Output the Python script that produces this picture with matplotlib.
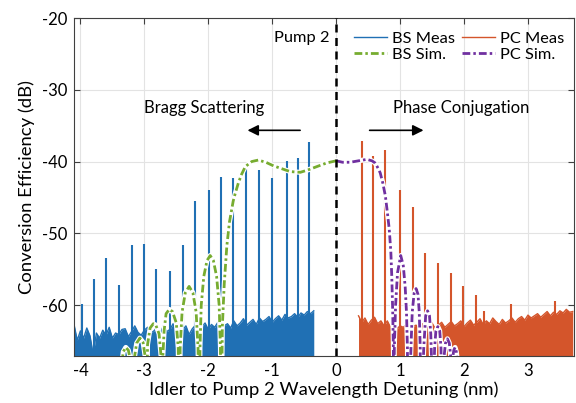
import numpy as np
import matplotlib
matplotlib.use('Agg')
import matplotlib.pyplot as plt

plt.rcParams['font.family'] = ['Lato', 'DejaVu Sans']
plt.rcParams['axes.unicode_minus'] = False

# measured noise floor, Bragg scattering side (every 0.05 nm from -4.10)
bs_noise_x = np.round(np.arange(-4.10, -0.349, 0.05), 3)
bs_noise_y = [-62.7, -64.9, -63.6, -64.6, -63.2, -64.3, -66.9, -63.9, -64.6, -63.5,
              -64.2, -63.1, -64.6, -63.9, -64.1, -63.4, -63.3, -64.4, -63.7, -62.9,
              -63.8, -64.2, -63.5, -63.1, -63.9, -63.6, -63.0, -64.0, -62.8, -63.7,
              -63.4, -62.6, -63.9, -63.2, -63.5, -62.9, -64.1, -63.3, -62.8, -63.9,
              -63.0, -62.5, -63.4, -62.7, -63.1, -62.4, -63.5, -62.9, -62.6, -63.2,
              -62.2, -62.9, -62.5, -61.9, -62.8, -62.4, -62.0, -62.7, -61.8, -62.3,
              -62.0, -61.6, -62.4, -61.9, -61.5, -62.1, -61.3, -61.8, -61.6, -61.2,
              -61.7, -61.1, -61.4, -60.9, -61.2, -60.8]

# measured idler peaks, Bragg scattering side
bs_peak_x = [-3.98, -3.79, -3.60, -3.39, -3.19, -3.00, -2.81, -2.60, -2.40, -2.20,
             -1.99, -1.80, -1.61, -1.41, -1.21, -1.01, -0.77, -0.60, -0.43]
bs_peak_y = [-59.9, -56.4, -53.5, -57.2, -51.7, -51.5, -55.0, -55.2, -51.6, -45.5,
             -43.9, -42.1, -42.3, -41.0, -41.2, -42.3, -39.9, -39.5, -37.3]

# measured noise floor, phase conjugation side (every 0.05 nm from 0.35)
pc_noise_x = np.round(np.arange(0.35, 3.701, 0.05), 3)
pc_noise_y = [-61.5, -62.4, -61.8, -62.7, -62.1, -61.7, -62.6, -62.2, -62.9, -62.2,
              -63.1, -62.5, -63.3, -62.9, -63.1, -62.7, -63.5, -63.0, -62.8, -63.4,
              -62.6, -63.2, -63.0, -62.5, -63.3, -62.8, -62.4, -63.1, -62.7, -62.3,
              -62.9, -62.6, -62.2, -63.0, -62.5, -62.1, -62.8, -62.4, -61.9, -62.7,
              -62.2, -62.6, -61.8, -62.3, -62.7, -62.0, -62.5, -62.2, -61.8, -62.4,
              -61.9, -61.6, -62.1, -61.4, -61.8, -61.5, -61.2, -61.7, -61.3, -60.9,
              -61.5, -61.0, -61.3, -60.8, -61.1, -60.6, -61.0, -60.9]

# measured idler peaks, phase conjugation side
pc_peak_x = [0.41, 0.58, 0.76, 1.00, 1.20, 1.39, 1.59, 1.79, 1.98, 2.19, 2.31, 2.74, 3.42]
pc_peak_y = [-37.2, -39.2, -38.4, -44.0, -46.4, -52.8, -54.1, -55.5, -57.4, -58.6,
             -60.8, -59.8, -59.5]

# simulated Bragg scattering response
bs_sim_x = [0.0, -0.15, -0.30, -0.45, -0.56, -0.72, -0.85, -0.98, -1.10, -1.22,
            -1.32, -1.42, -1.48, -1.53, -1.58, -1.61, -1.67, -1.71, -1.75, -1.78, -1.80,
            -1.81, -1.83, -1.87, -1.92, -1.97, -2.02, -2.07, -2.11, -2.13, -2.14,
            -2.16, -2.19, -2.24, -2.30, -2.36, -2.41, -2.44, -2.45,
            -2.47, -2.50, -2.56, -2.61, -2.66, -2.69, -2.71, -2.72,
            -2.74, -2.77, -2.82, -2.86, -2.91, -2.95, -2.97,
            -2.99, -3.02, -3.07, -3.12, -3.15, -3.16,
            -3.22, -3.25, -3.29, -3.33, -3.35]
bs_sim_y = [-39.9, -40.2, -40.7, -41.2, -41.5, -41.4, -41.0, -40.6, -40.1, -39.8,
            -40.0, -40.7, -41.8, -43.0, -44.5, -45.5, -48.5, -51.8, -57.0, -63.0, -80.0,
            -66.0, -60.0, -56.0, -53.8, -53.1, -53.8, -56.0, -60.0, -66.0, -80.0,
            -66.0, -61.0, -58.3, -57.4, -58.3, -61.0, -66.0, -80.0,
            -66.0, -62.5, -60.9, -60.6, -61.2, -63.5, -67.0, -80.0,
            -67.0, -64.0, -62.8, -62.6, -63.2, -65.5, -80.0,
            -67.0, -65.2, -64.6, -65.3, -67.0, -80.0,
            -67.5, -66.3, -65.9, -66.5, -68.0]

# simulated phase conjugation response
pc_sim_x = [0.0, 0.10, 0.22, 0.35, 0.48, 0.56, 0.61, 0.66, 0.69, 0.73, 0.77, 0.80,
            0.83, 0.855, 0.87, 0.885, 0.895, 0.90,
            0.91, 0.93, 0.96, 1.01, 1.05, 1.08, 1.10, 1.115, 1.12,
            1.17, 1.19, 1.22, 1.25, 1.28, 1.30, 1.315, 1.32,
            1.37, 1.40, 1.43, 1.46, 1.48, 1.49, 1.50,
            1.54, 1.56, 1.59, 1.62, 1.64, 1.65,
            1.69, 1.71, 1.74, 1.77, 1.79, 1.80,
            1.82, 1.84, 1.86, 1.88, 1.90]
pc_sim_y = [-39.9, -40.1, -40.1, -39.9, -39.7, -39.9, -40.2, -41.0, -41.6, -43.0, -44.8, -47.0,
            -49.4, -52.5, -56.0, -61.0, -66.0, -80.0,
            -66.0, -60.0, -55.5, -53.1, -54.5, -57.5, -61.0, -66.0, -80.0,
            -66.0, -61.0, -58.3, -57.7, -58.5, -61.0, -66.0, -80.0,
            -66.0, -61.5, -60.8, -61.5, -64.0, -67.0, -80.0,
            -66.0, -63.6, -63.0, -63.6, -66.0, -80.0,
            -67.0, -65.3, -64.7, -65.3, -67.0, -80.0,
            -67.5, -66.3, -65.9, -66.5, -68.0]

x_ticks = [-4, -3, -2, -1, 0, 1, 2, 3]
y_ticks = [-20, -30, -40, -50, -60]

blue = '#2070b4'
orange = '#d4552b'
green = '#77ac30'
purple = '#7030a0'

fig = plt.figure(figsize=(5.76, 4.03), dpi=100)
ax = fig.add_axes([0.1285, 0.1166, 0.868, 0.8387])

# measured spectra: noise floor as a filled trace, idler peaks as spikes
ax.fill_between(bs_noise_x, bs_noise_y, -80, color=blue, lw=0, zorder=2)
ax.plot(bs_noise_x, bs_noise_y, color=blue, lw=1.0, label='BS Meas', zorder=2)
ax.vlines(bs_peak_x, -80, bs_peak_y, color=blue, lw=1.5, zorder=2)
ax.fill_between(pc_noise_x, pc_noise_y, -80, color=orange, lw=0, zorder=2)
ax.plot(pc_noise_x, pc_noise_y, color=orange, lw=1.0, label='PC Meas', zorder=2)
ax.vlines(pc_peak_x, -80, pc_peak_y, color=orange, lw=1.5, zorder=2)

# simulations, with a white halo underneath
ax.plot(bs_sim_x, bs_sim_y, color='white', lw=3.6, zorder=3)
ax.plot(bs_sim_x, bs_sim_y, color=green, lw=2.0, dashes=(2.8, 1.1, 0.9, 1.1),
        label='BS Sim.', zorder=4)
ax.plot(pc_sim_x, pc_sim_y, color='white', lw=3.6, zorder=3)
ax.plot(pc_sim_x, pc_sim_y, color=purple, lw=2.0, dashes=(2.8, 1.1, 0.9, 1.1),
        label='PC Sim.', zorder=4)

ax.axvline(0, color='black', lw=1.8, dashes=(3.2, 2.2), zorder=5)

ax.text(-0.11, -22.8, 'Pump 2', ha='right', va='center', fontsize=11.8)
ax.text(-2.07, -32.5, 'Bragg Scattering', ha='center', va='center', fontsize=12)
ax.text(1.95, -32.5, 'Phase Conjugation', ha='center', va='center', fontsize=12)
ax.annotate('', xy=(-1.43, -35.65), xytext=(-0.52, -35.65),
            arrowprops=dict(arrowstyle='-|>', color='black', lw=1.2, mutation_scale=16))
ax.annotate('', xy=(1.41, -35.65), xytext=(0.48, -35.65),
            arrowprops=dict(arrowstyle='-|>', color='black', lw=1.2, mutation_scale=16))

ax.set_xlim(-4.1, 3.72)
ax.set_ylim(-67.1, -20)
ax.set_xticks(x_ticks)
ax.set_yticks(y_ticks)
ax.tick_params(direction='in', top=True, right=True, length=4, width=0.8,
               color='#404040', labelsize=12, pad=5)
ax.grid(True, color='#e3e3e3', lw=0.8, zorder=0)
ax.set_axisbelow(True)
for s in ax.spines.values():
    s.set_color('#404040')
    s.set_linewidth(0.8)

ax.set_xlabel('Idler to Pump 2 Wavelength Detuning (nm)', fontsize=13.3, labelpad=2)
ax.set_ylabel('Conversion Efficiency (dB)', fontsize=13.3, labelpad=5)

handles, labels = ax.get_legend_handles_labels()
order = [labels.index(n) for n in ['BS Meas', 'BS Sim.', 'PC Meas', 'PC Sim.']]
ax.legend([handles[i] for i in order], [labels[i] for i in order], ncol=2,
          loc='upper right', bbox_to_anchor=(1.0, 0.99), frameon=False,
          fontsize=11.8, handlelength=2.0, handletextpad=0.3, columnspacing=0.45,
          labelspacing=0.1, borderaxespad=0.2)

fig.savefig('out.png', dpi=100)
